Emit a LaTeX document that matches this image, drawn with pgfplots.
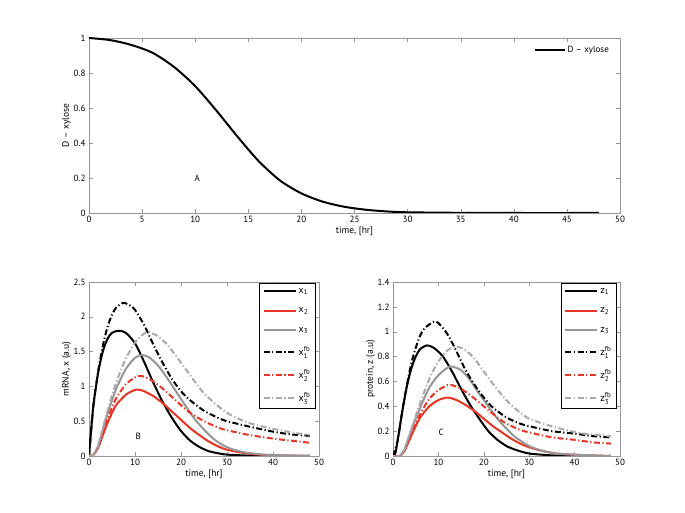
\documentclass[border=0pt]{standalone}
\usepackage{pgfplots}
\pgfplotsset{compat=1.18}
\usepackage{fontspec}
\setmainfont{PT Sans}
\definecolor{mred}{RGB}{232,52,38}
\definecolor{mgray}{RGB}{150,150,150}
\definecolor{lgray}{RGB}{170,170,170}
\pgfplotsset{
  mstyle/.style={
    scale only axis,
    xmin=0, xmax=50, ymin=0,
    axis line style={mgray},
    every tick/.style={mgray},
    tick align=inside,
    major tick length=4pt,
    tick label style={font=\fontsize{9}{10}\selectfont, black},
    label style={font=\fontsize{9.5}{11}\selectfont},
    /pgf/number format/assume math mode=true,
    xlabel={time, [hr]},
    xlabel shift=-3pt,
    ylabel shift=-4pt,
  },
  dd/.style={dash pattern=on 6pt off 2.5pt on 1.2pt off 2.5pt},
  sub/.style={smooth, tension=0.45, line width=2pt},
}
\newcommand{\fbl}[2]{#1\ensuremath{^{\mbox{\fontsize{7}{7}\selectfont fb}}_{\mbox{\fontsize{7}{7}\selectfont #2}}}}
\newcommand{\sbl}[2]{#1\ensuremath{_{\mbox{\fontsize{7}{7}\selectfont #2}}}}
\begin{document}
\begin{tikzpicture}
\path[use as bounding box] (0,0) rectangle (685pt,513pt);
% Panel A
\begin{axis}[mstyle, at={(89pt,300pt)}, anchor=south west,
  width=531pt, height=175pt, ymax=1,
  xtick={0,5,...,50}, ytick={0,0.2,0.4,0.6,0.8,1},
  ylabel={D -- xylose},
  legend style={draw=none, fill=none, at={(0.985,0.97)}, anchor=north east,
    font=\fontsize{9}{10}\selectfont, inner sep=1pt},
  legend cell align=left,
  legend image code/.code={\draw[#1, line width=2.2pt] (0pt,0pt) -- (30pt,0pt);},
]
\addplot[black, sub] coordinates {
(0,1.0)(2,0.988)(4,0.96)(6,0.915)(8,0.835)(10,0.725)(12,0.585)(14,0.435)(16,0.295)(18,0.185)(20,0.112)(22,0.065)(24,0.036)(26,0.019)(28,0.009)(30,0.004)(35,0.001)(40,0)(48,0)};
\addlegendentry{D -- xylose}
\node[font=\fontsize{9}{10}\selectfont] at (axis cs:10.2,0.2) {A};
\end{axis}
% Panel B
\begin{axis}[mstyle, at={(89pt,57pt)}, anchor=south west,
  width=230pt, height=174pt, ymax=2.5,
  xtick={0,10,...,50}, ytick={0,0.5,1,1.5,2,2.5},
  ylabel={mRNA, x (a.u)},
  legend style={draw=black, at={(0.985,0.995)}, anchor=north east,
    font=\fontsize{10}{10}\selectfont, row sep=9pt, inner sep=3pt},
  legend cell align=left,
  legend image code/.code={\draw[#1, line width=2pt] (0pt,0pt) -- (32pt,0pt);},
]
\addplot[black, sub] coordinates {
(0,0)(0.5,0.4)(1,0.75)(2,1.2)(3,1.5)(4,1.68)(5,1.77)(6.5,1.8)(8,1.77)(10,1.62)(12,1.35)(14,1.05)(16,0.78)(18,0.55)(20,0.36)(22,0.22)(24,0.13)(26,0.07)(28,0.04)(30,0.02)(35,0.005)(40,0.001)(48,0)};
\addlegendentry{\sbl{x}{1}}
\addplot[mred, sub] coordinates {
(0,0)(1,0.02)(2,0.12)(3,0.3)(4,0.47)(5,0.62)(6,0.74)(8,0.88)(10,0.95)(11,0.95)(12,0.93)(14,0.86)(16,0.76)(18,0.64)(20,0.52)(22,0.4)(24,0.3)(26,0.21)(28,0.14)(30,0.09)(33,0.05)(36,0.025)(40,0.01)(48,0)};
\addlegendentry{\sbl{x}{2}}
\addplot[mgray, sub] coordinates {
(0,0)(1,0.02)(2,0.15)(3,0.38)(4,0.6)(5,0.8)(6,0.98)(8,1.25)(10,1.41)(11.5,1.45)(13,1.42)(15,1.3)(17,1.12)(19,0.92)(21,0.72)(23,0.53)(25,0.38)(27,0.25)(29,0.16)(31,0.1)(34,0.05)(38,0.02)(42,0.01)(48,0)};
\addlegendentry{\sbl{x}{3}}
\addplot[black, sub, dd] coordinates {
(0,0)(1,0.75)(2,1.22)(3,1.58)(4,1.85)(5,2.03)(6,2.14)(7.5,2.2)(9,2.16)(10,2.1)(12,1.88)(14,1.6)(16,1.34)(18,1.11)(20,0.93)(22,0.8)(25,0.65)(28,0.55)(30,0.5)(35,0.42)(40,0.35)(44,0.31)(48,0.29)};
\addlegendentry{\fbl{x}{1}}
\addplot[mred, sub, dd] coordinates {
(0,0)(1,0.02)(2,0.13)(3,0.33)(4,0.52)(5,0.7)(6,0.84)(8,1.03)(10,1.13)(11,1.15)(12,1.14)(14,1.07)(16,0.97)(18,0.85)(20,0.73)(22,0.62)(25,0.5)(28,0.41)(30,0.37)(35,0.3)(40,0.25)(44,0.22)(48,0.19)};
\addlegendentry{\fbl{x}{2}}
\addplot[lgray, sub, dd] coordinates {
(0,0)(1,0.02)(2,0.15)(3,0.4)(4,0.64)(5,0.87)(6,1.07)(8,1.4)(10,1.63)(12,1.76)(13,1.78)(15,1.72)(17,1.6)(19,1.43)(21,1.25)(23,1.07)(25,0.9)(28,0.72)(30,0.62)(33,0.52)(36,0.45)(40,0.39)(44,0.34)(48,0.3)};
\addlegendentry{\fbl{x}{3}}
\node[font=\fontsize{9}{10}\selectfont] at (axis cs:10.7,0.28) {B};
\end{axis}
% Panel C
\begin{axis}[mstyle, at={(393pt,57pt)}, anchor=south west,
  width=227pt, height=174pt, ymax=1.4,
  xtick={0,10,...,50}, ytick={0,0.2,0.4,0.6,0.8,1,1.2,1.4},
  ylabel={protein, z (a.u)},
  legend style={draw=black, at={(0.985,0.995)}, anchor=north east,
    font=\fontsize{10}{10}\selectfont, row sep=9pt, inner sep=3pt},
  legend cell align=left,
  legend image code/.code={\draw[#1, line width=2pt] (0pt,0pt) -- (32pt,0pt);},
]
\addplot[black, sub] coordinates {
(0,0)(0.5,0.02)(1,0.12)(2,0.35)(3,0.55)(4,0.7)(5,0.8)(6,0.86)(7.5,0.89)(9,0.87)(11,0.8)(13,0.68)(15,0.54)(17,0.41)(19,0.3)(21,0.2)(23,0.13)(25,0.08)(27,0.05)(30,0.02)(35,0.005)(40,0)(48,0)};
\addlegendentry{\sbl{z}{1}}
\addplot[mred, sub] coordinates {
(0,0)(1.5,0)(2.5,0.04)(3.5,0.12)(5,0.24)(6,0.31)(8,0.4)(10,0.45)(12,0.47)(14,0.45)(16,0.41)(18,0.36)(20,0.3)(22,0.24)(24,0.19)(26,0.14)(28,0.1)(30,0.07)(33,0.04)(36,0.02)(40,0.01)(48,0)};
\addlegendentry{\sbl{z}{2}}
\addplot[mgray, sub] coordinates {
(0,0)(1.5,0)(2.5,0.05)(3.5,0.15)(5,0.3)(6,0.39)(8,0.55)(10,0.65)(12,0.71)(13,0.72)(15,0.69)(17,0.61)(19,0.5)(21,0.4)(23,0.3)(25,0.22)(27,0.15)(30,0.08)(33,0.04)(36,0.02)(40,0.01)(48,0)};
\addlegendentry{\sbl{z}{3}}
\addplot[black, sub, dd] coordinates {
(0,0)(1,0.12)(2,0.35)(3,0.56)(4,0.74)(5,0.87)(6,0.97)(7,1.03)(9,1.08)(10,1.07)(12,0.98)(14,0.84)(16,0.69)(18,0.57)(20,0.47)(22,0.39)(25,0.31)(28,0.26)(30,0.24)(35,0.2)(40,0.18)(44,0.16)(48,0.15)};
\addlegendentry{\fbl{z}{1}}
\addplot[mred, sub, dd] coordinates {
(0,0)(1.5,0)(2.5,0.04)(3.5,0.13)(5,0.26)(6,0.34)(8,0.46)(10,0.53)(12,0.57)(13,0.57)(15,0.54)(17,0.49)(19,0.43)(21,0.37)(23,0.31)(25,0.26)(28,0.21)(30,0.19)(35,0.15)(40,0.13)(44,0.11)(48,0.1)};
\addlegendentry{\fbl{z}{2}}
\addplot[lgray, sub, dd] coordinates {
(0,0)(1.5,0)(2.5,0.05)(3.5,0.16)(5,0.32)(6,0.43)(8,0.62)(10,0.76)(12,0.85)(14,0.88)(16,0.85)(18,0.78)(20,0.68)(22,0.58)(24,0.49)(26,0.41)(28,0.35)(30,0.3)(34,0.25)(38,0.21)(42,0.18)(48,0.16)};
\addlegendentry{\fbl{z}{3}}
\node[font=\fontsize{9}{10}\selectfont] at (axis cs:10.6,0.19) {C};
\end{axis}
\end{tikzpicture}
\end{document}
